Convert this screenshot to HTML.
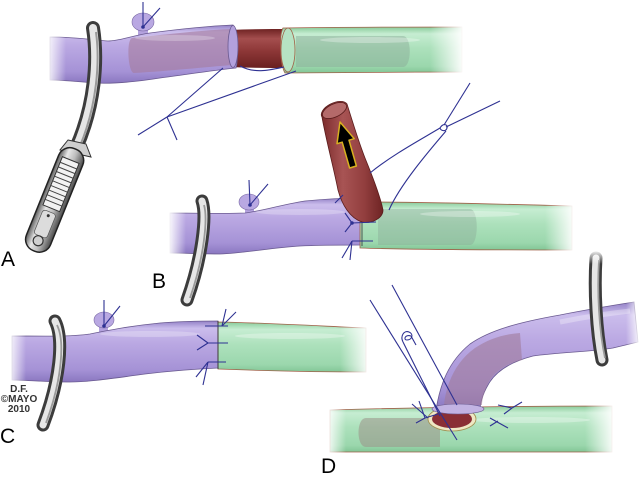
<!DOCTYPE html>
<html><head><meta charset="utf-8">
<style>
html,body{margin:0;padding:0;background:#fff;}
svg{display:block;}
text{font-family:"Liberation Sans",Arial,sans-serif;}
</style></head>
<body>
<svg width="641" height="479" viewBox="0 0 641 479" xmlns="http://www.w3.org/2000/svg">
<defs>
 <linearGradient id="pur" x1="0" y1="0" x2="0" y2="1">
  <stop offset="0" stop-color="#9280c6"/>
  <stop offset="0.12" stop-color="#cbbdec"/>
  <stop offset="0.35" stop-color="#bba9e3"/>
  <stop offset="0.8" stop-color="#a592d6"/>
  <stop offset="1" stop-color="#8a77c0"/>
 </linearGradient>
 <linearGradient id="grn" x1="0" y1="0" x2="0" y2="1">
  <stop offset="0" stop-color="#88cb9a"/>
  <stop offset="0.15" stop-color="#c6edd2"/>
  <stop offset="0.45" stop-color="#ade1bc"/>
  <stop offset="0.85" stop-color="#9bd7ad"/>
  <stop offset="1" stop-color="#82c696"/>
 </linearGradient>
 <linearGradient id="redv" x1="0" y1="0" x2="0" y2="1">
  <stop offset="0" stop-color="#6e2222"/>
  <stop offset="0.25" stop-color="#a44e4e"/>
  <stop offset="0.55" stop-color="#8e3838"/>
  <stop offset="1" stop-color="#6a2020"/>
 </linearGradient>
 <linearGradient id="redh" x1="0" y1="0" x2="1" y2="0">
  <stop offset="0" stop-color="#7a2a2a"/>
  <stop offset="0.35" stop-color="#a85454"/>
  <stop offset="0.7" stop-color="#923e3e"/>
  <stop offset="1" stop-color="#6e2424"/>
 </linearGradient>
 <linearGradient id="fadeL" x1="0" y1="0" x2="1" y2="0">
  <stop offset="0" stop-color="#fff" stop-opacity="1"/>
  <stop offset="1" stop-color="#fff" stop-opacity="0"/>
 </linearGradient>
 <linearGradient id="fadeR" x1="0" y1="0" x2="1" y2="0">
  <stop offset="0" stop-color="#fff" stop-opacity="0"/>
  <stop offset="1" stop-color="#fff" stop-opacity="1"/>
 </linearGradient>
 <linearGradient id="fadeT" x1="0" y1="0" x2="0" y2="1">
  <stop offset="0" stop-color="#fff" stop-opacity="1"/>
  <stop offset="1" stop-color="#fff" stop-opacity="0"/>
 </linearGradient>
 <linearGradient id="metal" x1="0" y1="0" x2="1" y2="0">
  <stop offset="0" stop-color="#5a5a5a"/>
  <stop offset="0.3" stop-color="#e8e8e8"/>
  <stop offset="0.6" stop-color="#bdbdbd"/>
  <stop offset="1" stop-color="#4a4a4a"/>
 </linearGradient>
</defs>

<!-- ================= PANEL A ================= -->
<rect x="138" y="24" width="10" height="12" fill="#b4a2de"/>
<ellipse cx="143" cy="22" rx="11" ry="9" fill="#b9a8e2" stroke="#7a6aa5" stroke-width="0.6"/>
<path d="M230,30 C250,29 270,29 291,29 L291,68 C270,68 250,68 230,67 Z" fill="url(#redv)"/>
<path d="M50,37 C75,37 95,40 108,41 C120,41 130,36 150,33 C180,29 210,26 233,25 C238,32 238,62 236,68 C215,70 190,74 160,78 C135,82 115,84 95,83 C80,82 65,80 50,80 Z" fill="url(#pur)" stroke="#6a5a90" stroke-width="0.8"/>
<path d="M132,38 C170,34 205,30 232,29 L233,65 C205,67 170,71 134,73 C128,73 126,40 132,38 Z" fill="#a57c9c" opacity="0.6"/>
<ellipse cx="233" cy="46.5" rx="5" ry="21" fill="#b3a1dc" stroke="#6a5a90" stroke-width="0.8"/>
<ellipse cx="175" cy="38" rx="40" ry="3" fill="#fff" opacity="0.25"/>
<path d="M283,28 C330,27 400,27 462,27 L462,72 C400,72 330,73 285,73 C280,65 279,35 283,28 Z" fill="url(#grn)" stroke="#a06048" stroke-width="0.8"/>
<path d="M296,36 L403,36 C412,36 412,67 403,67 L296,67 Z" fill="#8aa896" opacity="0.45"/>
<ellipse cx="288" cy="50" rx="7" ry="22" fill="#b6e3c3" stroke="#a06048" stroke-width="0.8"/>
<ellipse cx="370" cy="40" rx="50" ry="3" fill="#fff" opacity="0.3"/>
<rect x="430" y="20" width="34" height="60" fill="url(#fadeR)"/>
<rect x="46" y="30" width="20" height="60" fill="url(#fadeL)"/>
<g stroke="#2e3192" stroke-width="1.1" fill="none">
 <line x1="143" y1="27" x2="143" y2="2"/>
 <line x1="143" y1="27" x2="160" y2="8"/>
 <line x1="223" y1="68" x2="167" y2="117"/>
 <line x1="296" y1="71" x2="167" y2="117"/>
 <line x1="167" y1="117" x2="138" y2="135"/>
 <line x1="167" y1="117" x2="177" y2="140"/>
 <path d="M240,66 C255,74 270,70 284,67"/>
</g>
<circle cx="143" cy="27" r="1.8" fill="#2e3192"/>
<!-- clamp A -->
<path d="M93,28 C98,60 95,105 76,148" stroke="#3c3c3c" stroke-width="14" fill="none" stroke-linecap="round"/>
<path d="M93,28 C98,60 95,105 76,148" stroke="#e6e6e6" stroke-width="8" fill="none" stroke-linecap="round"/>
<path d="M96,32 C100,62 97,105 80,146" stroke="#9a9a9a" stroke-width="2" fill="none"/>
<polygon points="68,140 86,144 91,157 60,150" fill="#cfcfcf" stroke="#333" stroke-width="1"/>
<g transform="translate(55,199) rotate(22)">
 <rect x="-13" y="-54" width="26" height="110" rx="12" fill="url(#metal)" stroke="#222" stroke-width="1.5"/>
 <rect x="-9" y="-42" width="18" height="52" fill="#f2f2f2" stroke="#333" stroke-width="1"/>
 <g stroke="#444" stroke-width="1">
  <line x1="-9" y1="-36" x2="9" y2="-36"/><line x1="-9" y1="-31" x2="9" y2="-31"/>
  <line x1="-9" y1="-26" x2="9" y2="-26"/><line x1="-9" y1="-21" x2="9" y2="-21"/>
  <line x1="-9" y1="-16" x2="9" y2="-16"/><line x1="-9" y1="-11" x2="9" y2="-11"/>
  <line x1="-9" y1="-6" x2="9" y2="-6"/><line x1="-9" y1="-1" x2="9" y2="-1"/>
  <line x1="-9" y1="4" x2="9" y2="4"/>
 </g>
 <rect x="-7" y="14" width="14" height="26" rx="3" fill="#dcdcdc" stroke="#555" stroke-width="0.7"/>
 <circle cx="0" cy="18" r="1.5" fill="#333"/>
 <circle cx="0" cy="45" r="5" fill="#d0d0d0" stroke="#333" stroke-width="1.2"/>
</g>
<text x="1" y="266" font-size="21" fill="#000">A</text>

<!-- ================= PANEL B ================= -->
<rect x="245" y="204" width="9" height="12" fill="#b4a2de"/>
<ellipse cx="249" cy="202" rx="10" ry="8" fill="#b9a8e2" stroke="#7a6aa5" stroke-width="0.6"/>
<path d="M170,213 C200,213 225,214 245,213 C262,211 280,205 305,201 C325,199 345,198 362,198 C364,212 364,232 362,245 C340,245 320,245 300,246 C270,248 245,253 220,254 C200,254 185,253 170,253 Z" fill="url(#pur)" stroke="#6a5a90" stroke-width="0.8"/>
<ellipse cx="300" cy="212" rx="45" ry="3" fill="#fff" opacity="0.25"/>
<path d="M360,202 C420,202 500,204 572,206 L572,250 C500,250 420,250 360,248 Z" fill="url(#grn)" stroke="#a06048" stroke-width="0.8"/>
<path d="M378,209 L470,209 C479,209 479,245 470,245 L378,245 Z" fill="#8aa896" opacity="0.4"/>
<ellipse cx="470" cy="214" rx="50" ry="3" fill="#fff" opacity="0.3"/>
<line x1="362" y1="199" x2="362" y2="246" stroke="#333" stroke-width="0.8"/>
<rect x="168" y="205" width="18" height="55" fill="url(#fadeL)"/>
<rect x="545" y="198" width="30" height="60" fill="url(#fadeR)"/>
<path d="M322,117 C326,140 333,165 338,190 C342,205 350,218 362,222 C372,224 383,218 383,210 C380,195 372,175 365,158 C358,140 352,120 347,104 A13,7 -25 0 0 322,117 Z" fill="url(#redh)" stroke="#5a1c1c" stroke-width="0.8"/>
<ellipse cx="334.5" cy="110.5" rx="13" ry="6.5" transform="rotate(-25 334.5 110.5)" fill="#b46a6a" stroke="#5a1c1c" stroke-width="0.8"/>
<polygon points="340,122 354.2,138.7 349,140.2 356.4,166 349.6,168 342.2,142.2 337,143.7" fill="#000" stroke="#d8b020" stroke-width="1.5" stroke-linejoin="round"/>
<!-- clamp B -->
<path d="M202,201 C207,216 202,258 187,300" stroke="#3c3c3c" stroke-width="13" fill="none" stroke-linecap="round"/>
<path d="M202,201 C207,216 202,258 187,300" stroke="#e6e6e6" stroke-width="7" fill="none" stroke-linecap="round"/>
<path d="M204,205 C208,219 204,258 190,298" stroke="#9a9a9a" stroke-width="1.8" fill="none"/>
<g stroke="#2e3192" stroke-width="1.1" fill="none">
 <line x1="250" y1="205" x2="249" y2="180"/>
 <line x1="250" y1="205" x2="268" y2="184"/>
 <path d="M370,173 C392,155 420,140 440,128"/>
 <path d="M389,210 C400,185 428,152 446,131"/>
 <path d="M440,128 C443,123 448,124 447,128 C446,132 441,131 440,128 Z"/>
 <line x1="446" y1="127" x2="500" y2="101"/>
 <line x1="444" y1="125" x2="470" y2="83"/>
 <line x1="335" y1="203" x2="343" y2="195"/>
 <line x1="345" y1="213" x2="352" y2="223"/>
 <line x1="345" y1="232" x2="352" y2="223"/>
 <line x1="352" y1="223" x2="376" y2="222"/>
 <line x1="352" y1="241" x2="373" y2="241"/>
 <line x1="352" y1="241" x2="342" y2="258"/>
 <line x1="352" y1="241" x2="350" y2="260"/>
</g>
<circle cx="352" cy="223" r="1.8" fill="#2e3192"/>
<circle cx="250" cy="205" r="1.8" fill="#2e3192"/>
<text x="152" y="288" font-size="21" fill="#000">B</text>

<!-- ================= PANEL C ================= -->
<rect x="99" y="322" width="9" height="12" fill="#b4a2de"/>
<ellipse cx="104" cy="320" rx="10" ry="8" fill="#b9a8e2" stroke="#7a6aa5" stroke-width="0.6"/>
<path d="M12,336 C40,336 70,337 90,334 C110,330 130,326 160,323 C185,321 205,321 218,321 L218,368 C195,369 170,371 145,374 C115,378 90,382 70,382 C45,382 25,380 12,380 Z" fill="url(#pur)" stroke="#6a5a90" stroke-width="0.8"/>
<ellipse cx="150" cy="334" rx="50" ry="3" fill="#fff" opacity="0.25"/>
<path d="M218,322 C270,323 320,326 366,328 L366,372 C320,372 270,371 218,369 Z" fill="url(#grn)" stroke="#a06048" stroke-width="0.8"/>
<ellipse cx="290" cy="336" rx="55" ry="3" fill="#fff" opacity="0.3"/>
<line x1="218" y1="321" x2="218" y2="369" stroke="#333" stroke-width="0.9"/>
<rect x="8" y="328" width="18" height="60" fill="url(#fadeL)"/>
<rect x="340" y="320" width="30" height="60" fill="url(#fadeR)"/>
<!-- clamp C -->
<path d="M55,321 C64,339 60,380 43,425" stroke="#3c3c3c" stroke-width="13" fill="none" stroke-linecap="round"/>
<path d="M55,321 C64,339 60,380 43,425" stroke="#e6e6e6" stroke-width="7" fill="none" stroke-linecap="round"/>
<path d="M57,325 C65,341 62,380 46,423" stroke="#9a9a9a" stroke-width="1.8" fill="none"/>
<g stroke="#2e3192" stroke-width="1.1" fill="none">
 <line x1="104" y1="326" x2="104" y2="300"/>
 <line x1="104" y1="326" x2="120" y2="306"/>
 <line x1="205" y1="326" x2="228" y2="326"/>
 <line x1="222" y1="326" x2="226" y2="309"/>
 <line x1="222" y1="326" x2="236" y2="312"/>
 <line x1="197" y1="335" x2="208" y2="343"/>
 <line x1="197" y1="350" x2="208" y2="343"/>
 <line x1="208" y1="343" x2="228" y2="343"/>
 <line x1="208" y1="362" x2="226" y2="362"/>
 <line x1="208" y1="362" x2="196" y2="377"/>
 <line x1="208" y1="362" x2="203" y2="385"/>
</g>
<circle cx="104" cy="326" r="1.8" fill="#2e3192"/>
<text x="19" y="392" font-size="10" font-weight="bold" fill="#333" text-anchor="middle">D.F.</text>
<text x="19" y="402" font-size="10" font-weight="bold" fill="#333" text-anchor="middle">©MAYO</text>
<text x="19" y="412" font-size="10" font-weight="bold" fill="#333" text-anchor="middle">2010</text>
<text x="0" y="443" font-size="21" fill="#000">C</text>

<!-- ================= PANEL D ================= -->
<path d="M330,410 C400,408 500,406 612,406 L612,452 C500,452 400,452 330,452 Z" fill="url(#grn)" stroke="#a06048" stroke-width="0.8"/>
<path d="M366,418 L440,418 L440,447 L366,447 C356,447 356,418 366,418 Z" fill="#9a9288" opacity="0.55"/>
<ellipse cx="530" cy="420" rx="60" ry="3" fill="#fff" opacity="0.3"/>
<rect x="326" y="402" width="20" height="56" fill="url(#fadeL)"/>
<rect x="585" y="400" width="30" height="58" fill="url(#fadeR)"/>
<ellipse cx="452" cy="419" rx="24" ry="12" fill="#eee8c4" stroke="#a09050" stroke-width="0.8"/>
<ellipse cx="452" cy="419" rx="20" ry="9" fill="#8a2f35"/>
<path d="M436,410 C440,385 448,362 470,344 C490,330 520,322 560,315 C590,309 615,305 634,302 L638,342 L613,348 C590,352 560,352 533,356 C510,362 495,372 488,385 C482,395 480,405 480,410 Z" fill="url(#pur)" stroke="#6a5a90" stroke-width="0.8"/>
<path d="M444,405 C446,385 455,362 475,348 C490,338 505,334 520,333 L522,360 C508,363 497,370 490,380 C484,390 482,400 482,405 Z" fill="#a07b9b" opacity="0.6"/>
<ellipse cx="458" cy="409" rx="26" ry="5" fill="#c2b3e3" stroke="#6a5a90" stroke-width="0.6"/>
<path d="M560,322 C590,316 612,313 630,311" stroke="#fff" stroke-width="5" opacity="0.3" fill="none"/>
<rect x="626" y="296" width="15" height="52" fill="url(#fadeR)"/>
<!-- clamp D -->
<path d="M596,258 C594,290 596,330 602,360" stroke="#3c3c3c" stroke-width="13" fill="none" stroke-linecap="round"/>
<path d="M596,258 C594,290 596,330 602,360" stroke="#e6e6e6" stroke-width="7" fill="none" stroke-linecap="round"/>
<path d="M599,260 C597,292 599,330 605,358" stroke="#9a9a9a" stroke-width="1.8" fill="none"/>
<rect x="585" y="250" width="24" height="14" fill="url(#fadeT)"/>
<g stroke="#2e3192" stroke-width="1.1" fill="none">
 <line x1="370" y1="300" x2="457" y2="440"/>
 <line x1="392" y1="285" x2="457" y2="405"/>
 <path d="M403,342 C400,336 404,330 409,332 C414,334 412,340 407,340 C403,340 405,334 411,336"/>
 <line x1="403" y1="342" x2="440" y2="416"/>
 <line x1="411" y1="336" x2="416" y2="345"/>
 <line x1="412" y1="404" x2="428" y2="418"/>
 <line x1="419" y1="401" x2="425" y2="418"/>
 <line x1="425" y1="418" x2="416" y2="423"/>
 <line x1="425" y1="418" x2="438" y2="414"/>
 <line x1="498" y1="405" x2="512" y2="408"/>
 <line x1="512" y1="408" x2="522" y2="402"/>
 <line x1="512" y1="408" x2="504" y2="414"/>
 <line x1="490" y1="418" x2="508" y2="428"/>
 <line x1="498" y1="421" x2="490" y2="426"/>
</g>
<text x="321" y="473" font-size="21" fill="#000">D</text>
</svg>
</body></html>
